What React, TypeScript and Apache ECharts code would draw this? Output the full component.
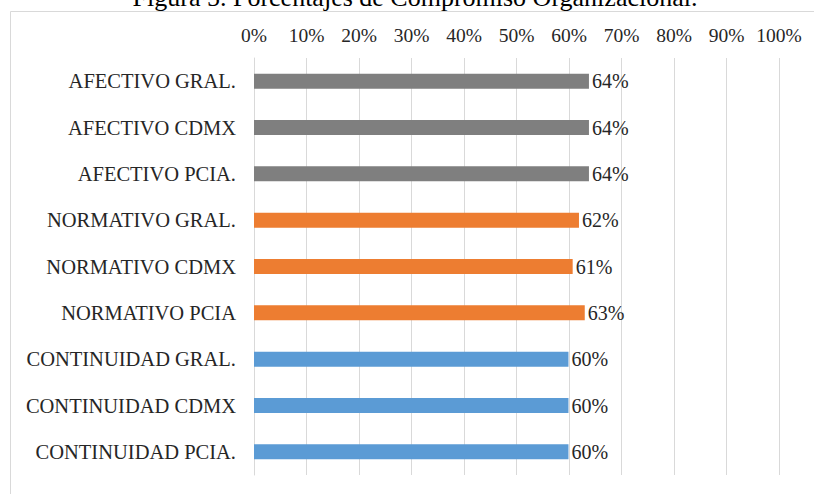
import React, { useEffect, useRef } from "react";
import * as echarts from "echarts";

const categories = [
  "AFECTIVO GRAL.",
  "AFECTIVO CDMX",
  "AFECTIVO PCIA.",
  "NORMATIVO GRAL.",
  "NORMATIVO CDMX",
  "NORMATIVO PCIA",
  "CONTINUIDAD GRAL.",
  "CONTINUIDAD CDMX",
  "CONTINUIDAD PCIA.",
];
const values = [0.638, 0.638, 0.638, 0.619, 0.607, 0.63, 0.599, 0.599, 0.599];
const barColors = [
  "#7f7f7f", "#7f7f7f", "#7f7f7f",
  "#ed7d31", "#ed7d31", "#ed7d31",
  "#5b9bd5", "#5b9bd5", "#5b9bd5",
];
const titleText = "Figura 5. Porcentajes de Compromiso Organizacional.";

const FONT = "'Liberation Serif', 'Times New Roman', serif";

export default function App() {
  const ref = useRef<HTMLDivElement>(null);
  useEffect(() => {
    if (!ref.current) return;
    const chart = echarts.init(ref.current, undefined, { renderer: "svg" });
    chart.setOption({
      animation: false,
      backgroundColor: "#ffffff",
      textStyle: { fontFamily: FONT },
      graphic: [
        {
          type: "rect",
          shape: { x: 10.5, y: 11.5, width: 900, height: 600 },
          style: { fill: "none", stroke: "#d9d9d9", lineWidth: 1 },
          silent: true,
        },
        {
          type: "text",
          x: 415,
          y: 10,
          style: {
            text: titleText,
            font: `26px ${FONT}`,
            fill: "#000000",
            align: "center",
            verticalAlign: "bottom",
          },
        },
      ],
      grid: { left: 254, right: 35, top: 58, bottom: 19, containLabel: false },
      xAxis: {
        type: "value",
        position: "top",
        min: 0,
        max: 1,
        interval: 0.1,
        axisLine: { show: false },
        axisTick: { show: false },
        axisLabel: {
          margin: 13,
          fontSize: 19.5,
          fontFamily: FONT,
          color: "#262626",
          formatter: (v: number) => Math.round(v * 100) + "%",
        },
        splitLine: { show: true, lineStyle: { color: "#d9d9d9", width: 1 } },
      },
      yAxis: {
        type: "category",
        data: categories,
        inverse: true,
        axisLine: { show: true, lineStyle: { color: "#d9d9d9" } },
        axisTick: { show: false },
        axisLabel: {
          margin: 18,
          fontSize: 20.5,
          fontFamily: FONT,
          color: "#262626",
        },
      },
      series: [
        {
          type: "bar",
          barWidth: 15,
          data: values.map((v, i) => ({ value: v, itemStyle: { color: barColors[i] } })),
          label: {
            show: true,
            position: "right",
            distance: 3,
            fontSize: 20,
            fontFamily: FONT,
            color: "#262626",
            formatter: (p: any) => Math.round(p.value * 100) + "%",
          },
        },
      ],
    });
    return () => chart.dispose();
  }, []);
  return (
    <div
      ref={ref}
      style={{ position: "fixed", left: 0, top: 0, width: 814, height: 494 }}
    />
  );
}
